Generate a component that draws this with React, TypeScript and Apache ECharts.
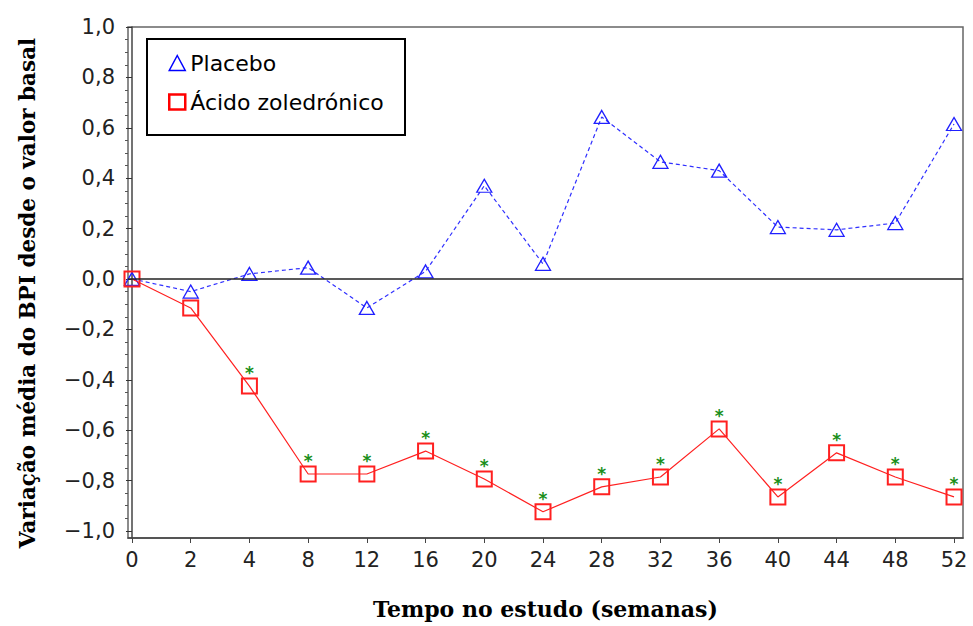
import React, { useEffect, useRef } from "react";
import * as echarts from "echarts";

const weeks = ["0", "2", "4", "8", "12", "16", "20", "24", "28", "32", "36", "40", "44", "48", "52"];
const placebo = [0.0, -0.05, 0.02, 0.045, -0.115, 0.03, 0.37, 0.06, 0.643, 0.465, 0.43, 0.206, 0.195, 0.222, 0.615];
const zoledronic = [0.0, -0.115, -0.425, -0.774, -0.774, -0.683, -0.794, -0.924, -0.825, -0.786, -0.595, -0.865, -0.69, -0.786, -0.865];
const significant = [false, false, true, true, true, true, true, true, true, true, true, true, true, true, true];
const yMajor = [-1.0, -0.8, -0.6, -0.4, -0.2, 0.0, 0.2, 0.4, 0.6, 0.8, 1.0];
const yMinor = [-0.95, -0.9, -0.85, -0.75, -0.7, -0.65, -0.55, -0.5, -0.45, -0.35, -0.3, -0.25, -0.15, -0.1, -0.05,
  0.05, 0.1, 0.15, 0.25, 0.3, 0.35, 0.45, 0.5, 0.55, 0.65, 0.7, 0.75, 0.85, 0.9, 0.95];
const yTitle = "Variação média do BPI desde o valor basal";
const xTitle = "Tempo no estudo (semanas)";

const fmtY = (v: number) => v.toFixed(1).replace(".", ",").replace("-", "\u2212");
const SANS = "DejaVu Sans";
const SERIF = "DejaVu Serif";

export default function App() {
  const ref = useRef<HTMLDivElement>(null);
  useEffect(() => {
    if (!ref.current) return;
    const chart = echarts.init(ref.current, undefined, { renderer: "svg" });
    const xIdx = weeks.map((_, i) => i);
    const yMin = -1.028;
    const yMax = 1.0;
    chart.setOption({
      animation: false,
      backgroundColor: "#fff",
      grid: {
        left: 128, right: 10, top: 27, bottom: 88,
        outerBoundsMode: "none",
        containLabel: false,
        show: true, borderColor: "#666", borderWidth: 1.5,
      },
      xAxis: {
        type: "value",
        min: -0.068,
        max: 14.153,
        name: xTitle,
        nameLocation: "middle",
        nameGap: 60,
        nameTextStyle: { fontFamily: SERIF, fontWeight: "bold", fontSize: 22, color: "#000" },
        axisLine: { show: true, onZero: false, lineStyle: { color: "#444", width: 1.5 } },
        axisTick: { show: true, customValues: xIdx, length: 5, lineStyle: { color: "#444" } },
        axisLabel: {
          customValues: xIdx,
          formatter: (v: number) => weeks[Math.round(v)],
          fontFamily: SANS,
          fontSize: 21,
          color: "#222",
          margin: 11,
        },
        splitLine: { show: false },
      },
      yAxis: [
        {
          type: "value",
          min: yMin,
          max: yMax,
          axisLine: { show: true, lineStyle: { color: "#444", width: 1.5 } },
          axisTick: { show: true, customValues: yMajor, length: 6, lineStyle: { color: "#333" } },
          axisLabel: { customValues: yMajor, formatter: fmtY, fontFamily: SANS, fontSize: 21, color: "#222", margin: 13 },
          splitLine: { show: false },
        },
        {
          type: "value",
          min: yMin,
          max: yMax,
          position: "left",
          axisLine: { show: false },
          axisTick: { show: true, customValues: yMinor, length: 3, lineStyle: { color: "#555" } },
          axisLabel: { show: false, customValues: yMinor },
          splitLine: { show: false },
        },
      ],
      legend: {
        orient: "vertical",
        left: 168,
        top: 52,
        padding: 0,
        itemGap: 17,
        itemWidth: 16,
        itemHeight: 15,
        textStyle: { fontFamily: SANS, fontSize: 22, color: "#000" },
        data: [
          { name: "Placebo", icon: "triangle", itemStyle: { color: "transparent", borderColor: "#0000ff", borderWidth: 1.5 } },
          { name: "Ácido zoledrónico", icon: "rect", itemStyle: { color: "transparent", borderColor: "#ff0000", borderWidth: 2.5 } },
        ],
      },
      graphic: [
        {
          type: "rect",
          shape: { x: 147, y: 39, width: 258, height: 96 },
          style: { fill: "none", stroke: "#000", lineWidth: 2 },
          z: 10,
        },
        {
          type: "text",
          x: 27,
          y: 293,
          rotation: Math.PI / 2,
          style: {
            text: yTitle,
            fontFamily: SERIF,
            fontWeight: "bold",
            fontSize: 21.5,
            fill: "#000",
            align: "center",
            verticalAlign: "middle",
          },
        },
      ],
      series: [
        {
          name: "Placebo",
          type: "line",
          data: placebo.map((v, i) => [i, v]),
          symbol: "triangle",
          symbolSize: [15, 13],
          itemStyle: { color: "transparent", borderColor: "#2020ff", borderWidth: 1.3 },
          lineStyle: { color: "#3030ff", width: 1.2, type: [4, 3] },
          z: 3,
          markLine: {
            silent: true,
            symbol: "none",
            label: { show: false },
            lineStyle: { color: "#222", width: 1.5, type: "solid" },
            data: [{ yAxis: 0 }],
          },
        },
        {
          name: "Ácido zoledrónico",
          type: "line",
          data: zoledronic.map((v, i) => [i, v]),
          symbol: "rect",
          symbolSize: 15,
          itemStyle: { color: "transparent", borderColor: "#ff2020", borderWidth: 2 },
          lineStyle: { color: "#ff2020", width: 1.2 },
          z: 4,
          label: {
            show: true,
            position: "top",
            distance: -4,
            formatter: (p: any) => (significant[p.dataIndex] ? "*" : ""),
            color: "#1a8f1a",
            fontSize: 17,
            fontFamily: SANS,
            fontWeight: "bold",
          },
        },
      ],
    });
    return () => chart.dispose();
  }, []);
  return <div ref={ref} style={{ width: 973, height: 626, position: "absolute", left: 0, top: 0 }} />;
}
